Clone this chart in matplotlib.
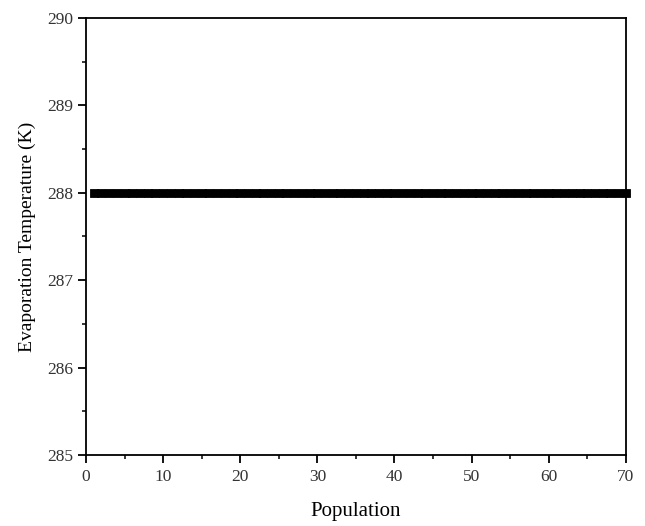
import matplotlib
matplotlib.use("Agg")
import matplotlib.pyplot as plt
from matplotlib.ticker import MultipleLocator

population = [1, 2, 3, 4, 5, 6, 7, 8, 9, 10, 11, 12, 13, 14, 15, 16, 17, 18, 19, 20,
              21, 22, 23, 24, 25, 26, 27, 28, 29, 30, 31, 32, 33, 34, 35, 36, 37, 38, 39, 40,
              41, 42, 43, 44, 45, 46, 47, 48, 49, 50, 51, 52, 53, 54, 55, 56, 57, 58, 59, 60,
              61, 62, 63, 64, 65, 66, 67, 68, 69, 70]
evap_temp = [288.0, 288.0, 288.0, 288.0, 288.0, 288.0, 288.0, 288.0, 288.0, 288.0,
             288.0, 288.0, 288.0, 288.0, 288.0, 288.0, 288.0, 288.0, 288.0, 288.0,
             288.0, 288.0, 288.0, 288.0, 288.0, 288.0, 288.0, 288.0, 288.0, 288.0,
             288.0, 288.0, 288.0, 288.0, 288.0, 288.0, 288.0, 288.0, 288.0, 288.0,
             288.0, 288.0, 288.0, 288.0, 288.0, 288.0, 288.0, 288.0, 288.0, 288.0,
             288.0, 288.0, 288.0, 288.0, 288.0, 288.0, 288.0, 288.0, 288.0, 288.0,
             288.0, 288.0, 288.0, 288.0, 288.0, 288.0, 288.0, 288.0, 288.0, 288.0]

plt.rcParams['font.family'] = ['Liberation Serif', 'DejaVu Serif']

fig = plt.figure(figsize=(6.45, 5.26), dpi=100)
ax = fig.add_axes([0.1333, 0.135, 0.837, 0.8308])

ax.plot(population, evap_temp, linestyle='none', marker='s', markersize=5.4,
        markeredgewidth=0.6, color='black', clip_on=False, zorder=3)

ax.set_xlim(0, 70)
ax.set_ylim(285, 290)
ax.xaxis.set_major_locator(MultipleLocator(10))
ax.xaxis.set_minor_locator(MultipleLocator(5))
ax.yaxis.set_major_locator(MultipleLocator(1))
ax.yaxis.set_minor_locator(MultipleLocator(0.5))

for s in ax.spines.values():
    s.set_linewidth(1.3)
ax.tick_params(which='major', direction='out', length=6, width=1.3, labelsize=12.5,
               labelcolor='#333333', pad=4)
ax.tick_params(axis='y', which='major', pad=3)
ax.tick_params(which='minor', direction='out', length=3, width=1.1)

ax.set_xlabel('Population', fontsize=15, labelpad=12)
ax.set_ylabel('Evaporation Temperature (K)', fontsize=14, labelpad=8)

fig.savefig('out.png', dpi=100)
